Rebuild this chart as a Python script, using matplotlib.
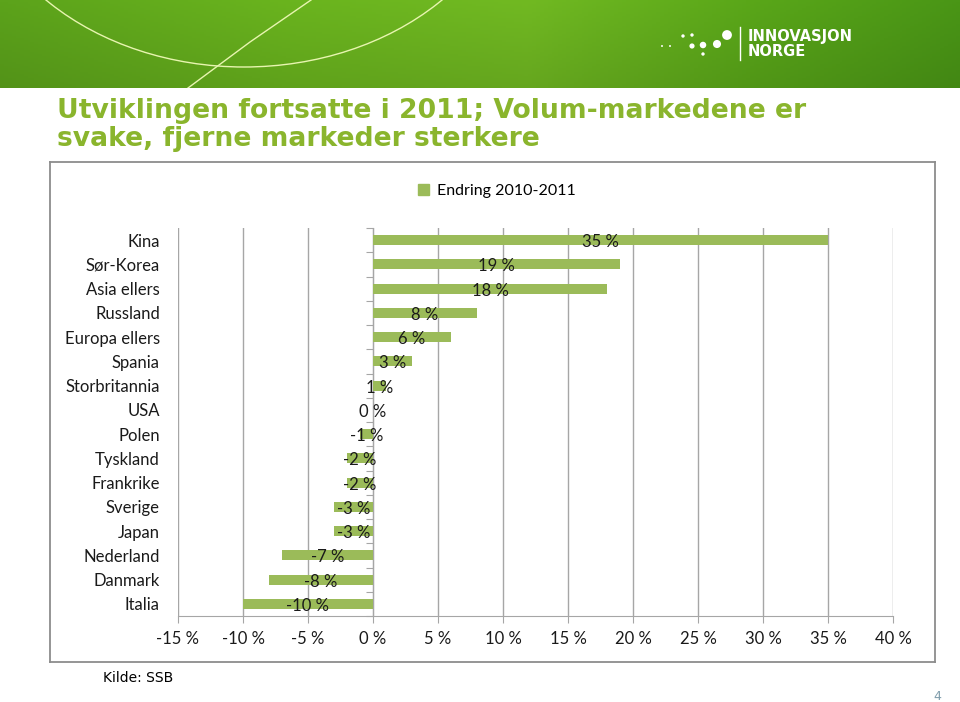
import numpy as np
import matplotlib
matplotlib.use("Agg")
import matplotlib.pyplot as plt
from matplotlib.patches import Ellipse, Patch
from matplotlib.colors import LinearSegmentedColormap

# --- data -------------------------------------------------------------
markets = ["Kina", "Sør-Korea", "Asia ellers", "Russland", "Europa ellers",
           "Spania", "Storbritannia", "USA", "Polen", "Tyskland",
           "Frankrike", "Sverige", "Japan", "Nederland", "Danmark", "Italia"]
change = [35, 19, 18, 8, 6, 3, 1, 0, -1, -2, -2, -3, -3, -7, -8, -10]
x_ticks = list(range(-15, 41, 5))
series_name = "Endring 2010-2011"

title = "Utviklingen fortsatte i 2011; Volum-markedene er\nsvake, fjerne markeder sterkere"
source = "Kilde: SSB"
page_no = "4"

BAR = "#9bbb59"
GRID = "#a6a6a6"
TITLE_GREEN = "#8ab52d"
LABEL_FONT = ["Lato", "DejaVu Sans"]

W, H = 960, 702
fig = plt.figure(figsize=(W / 100, H / 100), dpi=100)
fig.patch.set_facecolor("white")

# --- green header band ------------------------------------------------
hh = 88
hdr = fig.add_axes([0, 1 - hh / H, 1, hh / H])
cmap = LinearSegmentedColormap.from_list(
    "hdr", [(0.0, "#5ca31b"), (0.3, "#6ab41e"), (0.55, "#71b922"),
            (0.78, "#5aa719"), (1.0, "#4a9616")])
grad = np.tile(np.linspace(0, 1, 480), (44, 1))
shade = np.linspace(1.0, 0.9, 44)[:, None]
rgb = cmap(grad)[..., :3] * shade[..., None]
hdr.imshow(rgb, extent=[0, W, hh, 0], aspect="auto")
hdr.add_patch(Ellipse((244, -150), 548, 434, fill=False,
                      edgecolor="#e8f5b0", lw=1.0))
hdr.plot([188, 250, 311], [hh, 42, 0], color="#e8f5b0", lw=1.0)
# logo
dots_x = [662, 670, 683, 692, 692, 703, 717, 703, 727]
dots_y = [46, 46, 36, 35, 46, 45, 44, 54, 35]
dots_s = [2, 2, 6, 6, 14, 22, 34, 6, 50]
hdr.scatter(dots_x, dots_y, s=dots_s, color="white", lw=0)
hdr.plot([740, 740], [27, 60], color="white", lw=1.0)
hdr.text(748, 36, "INNOVASJON", color="white", fontsize=10.5,
         fontweight="bold", va="center", ha="left", family="DejaVu Sans")
hdr.text(748, 52, "NORGE", color="white", fontsize=10.5,
         fontweight="bold", va="center", ha="left", family="DejaVu Sans")
hdr.set_xlim(0, W)
hdr.set_ylim(hh, 0)
hdr.axis("off")

# --- title ------------------------------------------------------------
fig.text(57 / W, 1 - 98 / H, title, fontsize=19.2, fontweight="bold",
         color=TITLE_GREEN, family="DejaVu Sans", va="top", ha="left",
         linespacing=1.12)

# --- chart frame ------------------------------------------------------
frame = fig.add_axes([50 / W, 1 - 662 / H, 885 / W, 500 / H])
frame.set_xticks([])
frame.set_yticks([])
for s in frame.spines.values():
    s.set_color("#8c8c8c")
    s.set_linewidth(1.3)

# --- bar chart --------------------------------------------------------
ax = fig.add_axes([178 / W, 1 - 616 / H, 715 / W, 388 / H])
ax.patch.set_alpha(0)
ypos = np.arange(len(markets))
ax.barh(ypos, change, height=0.42, color=BAR, zorder=2)
for y, v in zip(ypos, change):
    ax.text(v / 2, y + 0.08, f"{v} %", ha="center", va="center",
            fontsize=12, color="#1a1a1a", family=LABEL_FONT, zorder=3)

ax.set_xlim(x_ticks[0], x_ticks[-1])
ax.set_ylim(len(markets) - 0.5, -0.5)
ax.set_xticks(x_ticks)
ax.set_xticklabels([f"{t} %" for t in x_ticks], family=LABEL_FONT,
                   fontsize=12, color="#1a1a1a")
ax.set_yticks(ypos)
ax.set_yticklabels(markets, family=LABEL_FONT, fontsize=12, color="#1a1a1a")
ax.tick_params(axis="y", length=0, pad=13)
ax.tick_params(axis="x", length=5, color=GRID, pad=6)
ax.grid(axis="x", color=GRID, lw=1.0, zorder=0)
ax.set_axisbelow(True)
for s in ["top", "right", "left"]:
    ax.spines[s].set_visible(False)
ax.spines["bottom"].set_color(GRID)

# category axis at 0 with tick marks between categories
zero_loc = (0 - x_ticks[0]) / (x_ticks[-1] - x_ticks[0])
sec = ax.secondary_yaxis(zero_loc)
sec.set_yticks(np.arange(-0.5, len(markets), 1))
sec.set_yticklabels([])
sec.tick_params(length=5, color=GRID, direction="out")
sec.spines["left"].set_color(GRID)

ax.legend(handles=[Patch(color=BAR, label=series_name)], loc="center",
          bbox_to_anchor=(0.446, 1.095), frameon=False, handlelength=0.7,
          handleheight=0.7, handletextpad=0.5,
          prop={"family": LABEL_FONT, "size": 11.5})

# --- footer -----------------------------------------------------------
fig.text(103 / W, 1 - 678 / H, source, fontsize=10, family="DejaVu Sans",
         va="center", ha="left", color="black")
fig.text(937 / W, 1 - 696 / H, page_no, fontsize=9, family="DejaVu Sans",
         va="center", ha="center", color="#7f9cab")

fig.savefig("out.png", dpi=100)
